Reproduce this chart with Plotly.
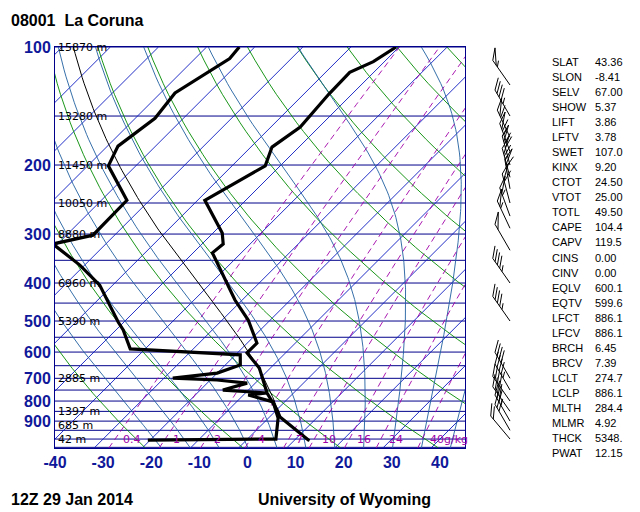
import numpy as np
import plotly.graph_objects as go

# sounding 08001 La Coruna, 12Z 29 Jan 2014
temp_p = [1010, 879, 843, 763, 659, 603, 569, 527, 497, 442, 335, 318, 298, 246, 201, 180, 160, 132, 116, 109, 100]
temp_t = [13.2, 2.2, 0.1, -5.5, -12.3, -18.0, -18.0, -21.7, -24.6, -31.5, -46.0, -45.6, -48.1, -58.5, -53.1, -55.6, -53.9, -54.8, -55.0, -52.3, -50.6]
dwpt_p = [1006, 1000, 884, 804, 772, 763, 750, 720, 707, 699, 679, 647, 610, 589, 527, 503, 405, 360, 318, 302, 246, 201, 179, 152, 131, 107, 100]
dwpt_t = [-20.5, 5.9, 2.0, -2.4, -9.0, -5.5, -15.3, -11.7, -18.6, -28.2, -20.0, -16.9, -19.0, -43.1, -48.5, -51.2, -62.7, -71.0, -81.0, -74.5, -74.7, -85.7, -87.8, -85.9, -87.0, -82.8, -83.2]

wind_p = [100, 125, 150, 170, 185, 200, 215, 230, 250, 270, 290, 330, 400, 500, 700, 750, 800, 850, 900, 950, 1000]
wind_dir = [320, 325, 330, 335, 340, 345, 345, 350, 345, 340, 335, 330, 325, 325, 330, 330, 325, 325, 330, 330, 320]
wind_spd = [45, 55, 45, 60, 65, 70, 65, 60, 60, 55, 55, 50, 45, 45, 40, 45, 40, 40, 35, 30, 20]

height_p = [100, 150, 200, 250, 300, 400, 500, 700, 850, 925, 1000]
height_lbl = ["15870 m", "13280 m", "11450 m", "10050 m", "8880 m", "6960 m", "5390 m", "2885 m", "1397 m", "685 m", "42 m"]

mix_ratios = [0.4, 1, 2, 4, 7, 10, 16, 24, 40]
mix_lbls = ["0.4", "1", "2", "4", "7", "10", "16", "24", "40g/kg"]

idx_names = ["SLAT", "SLON", "SELV", "SHOW", "LIFT", "LFTV", "SWET", "KINX", "CTOT", "VTOT", "TOTL", "CAPE", "CAPV",
             "CINS", "CINV", "EQLV", "EQTV", "LFCT", "LFCV", "BRCH", "BRCV", "LCLT", "LCLP", "MLTH", "MLMR", "THCK", "PWAT"]
idx_vals = ["43.36", "-8.41", "67.00", "5.37", "3.86", "3.78", "107.0", "9.20", "24.50", "25.00", "49.50", "104.4", "119.5",
            "0.00", "0.00", "600.1", "599.6", "886.1", "886.1", "6.45", "7.39", "274.7", "886.1", "284.4", "4.92", "5348.", "12.15"]
lcl_p = 886.1

SKEW = 81.5
P_BOT = 1054


def skx(t, p):
    return np.asarray(t, float) + SKEW * np.log10(1000.0 / np.asarray(p, float))


def moist_lapse(tk, p):
    es = 6.112 * np.exp(17.67 * (tk - 273.15) / (tk - 29.65))
    rs = 0.622 * es / (p - es)
    num = 287.04 * tk + 2.501e6 * rs
    den = 1005.7 + (2.501e6 ** 2 * rs * 0.622) / (287.04 * tk ** 2)
    return num / den / p


def moist_path(p0, t0, p1, n=200):
    ps = np.linspace(p0, p1, n)
    t = t0 + 273.15
    out = [t]
    for i in range(1, n):
        dp = ps[i] - ps[i - 1]
        k1 = moist_lapse(t, ps[i - 1])
        k2 = moist_lapse(t + k1 * dp, ps[i])
        t = t + 0.5 * (k1 + k2) * dp
        out.append(t)
    return ps, np.array(out) - 273.15


def mix_td(w, p):
    e = (w / 1000.0) * p / (0.622 + w / 1000.0)
    a = np.log(e / 6.112)
    return 243.5 * a / (17.67 - a)


fig = go.Figure()
pp = np.linspace(P_BOT, 100, 120)

# isobars
xs, ys = [], []
for p in range(100, 1051, 50):
    xs += [-40, 46, None]
    ys += [p, p, None]
fig.add_trace(go.Scatter(x=xs, y=ys, mode="lines", line=dict(color="#00008b", width=1), hoverinfo="skip"))

# isotherms
xs, ys = [], []
for t in range(-130, 50, 10):
    xs += list(skx(np.full(pp.size, t), pp)) + [None]
    ys += list(pp) + [None]
fig.add_trace(go.Scatter(x=xs, y=ys, mode="lines", line=dict(color="#0a18c0", width=0.9), hoverinfo="skip"))

# dry adiabats
xs, ys = [], []
for th in range(190, 470, 20):
    t = th * (pp / 1000.0) ** 0.2857 - 273.15
    xs += list(skx(t, pp)) + [None]
    ys += list(pp) + [None]
fig.add_trace(go.Scatter(x=xs, y=ys, mode="lines", line=dict(color="#008a00", width=0.9), hoverinfo="skip"))

# moist adiabats
xs, ys = [], []
for t0 in range(-16, 46, 6):
    ps, ts = moist_path(P_BOT, t0, 100)
    xs += list(skx(ts, ps)) + [None]
    ys += list(ps) + [None]
fig.add_trace(go.Scatter(x=xs, y=ys, mode="lines", line=dict(color="#1f5f9f", width=0.9), hoverinfo="skip"))

# mixing ratio lines
xs, ys = [], []
for w in mix_ratios:
    xs += list(skx(mix_td(w, pp), pp)) + [None]
    ys += list(pp) + [None]
fig.add_trace(go.Scatter(x=xs, y=ys, mode="lines", line=dict(color="#a000a8", width=0.9, dash="6px,4px"),
                         hoverinfo="skip"))

# parcel path
pd_ = np.linspace(temp_p[0], lcl_p, 20)
td_ = (temp_t[0] + 273.15) * (pd_ / temp_p[0]) ** 0.2857 - 273.15
pm, tm = moist_path(lcl_p, td_[-1], 100)
fig.add_trace(go.Scatter(x=np.r_[skx(td_, pd_), skx(tm, pm)], y=np.r_[pd_, pm], mode="lines",
                         line=dict(color="black", width=1), hoverinfo="skip"))

# sounding
fig.add_trace(go.Scatter(x=skx(dwpt_t, dwpt_p), y=dwpt_p, mode="lines", line=dict(color="black", width=3.2)))
fig.add_trace(go.Scatter(x=skx(temp_t, temp_p), y=temp_p, mode="lines", line=dict(color="black", width=3.2)))

# wind barbs on a pixel-scaled side axis
bx, by = [], []
for p, d, s in zip(wind_p, wind_dir, wind_spd):
    yb = 392 * np.log10(p / 100.0)
    r = np.radians(d)
    u = np.array([np.sin(r), np.cos(r)])
    perp = np.array([np.cos(r), -np.sin(r)])
    base = np.array([30.0, 0.0])
    tip = base + 30 * u

    def add(pts):
        for q in pts:
            bx.append(q[0])
            by.append(yb - q[1])
        bx.append(None)
        by.append(None)

    add([base, tip])
    pos = tip.copy()
    n50, rem = divmod(int(round(s / 5.0)) * 5, 50)
    n10, n5 = divmod(rem, 10)
    for _ in range(n50):
        add([pos, pos + 9 * perp + 9 * u, pos - 6 * u])
        pos = pos - 8 * u
    for _ in range(n10):
        add([pos, pos + 9 * perp + 9 * u])
        pos = pos - 4 * u
    if n5:
        add([pos, pos + 4.5 * perp + 4.5 * u])
fig.add_trace(go.Scatter(x=bx, y=by, xaxis="x2", yaxis="y2", mode="lines",
                         line=dict(color="black", width=1), hoverinfo="skip"))

ann = []
for p, lbl in zip(height_p, height_lbl):
    ann.append(dict(x=0, xref="paper", y=np.log10(p), yref="y", text=lbl, showarrow=False, xanchor="left",
                    yanchor="middle", xshift=1, font=dict(size=11, color="black", family="DejaVu Sans")))
for w, lbl in zip(mix_ratios, mix_lbls):
    ann.append(dict(x=float(skx(mix_td(w, 1000), 1000)) + 1.2, y=np.log10(1000), text=lbl, showarrow=False,
                    xanchor="left", yanchor="middle", font=dict(size=11, color="#a000a8", family="DejaVu Sans")))


# the page adds an 8px body margin, so screen px -> paper coords
def px_x(px):
    return (px - 55) / 485.0


def px_y(py):
    return (448 - py) / 401.0


for i, (n, v) in enumerate(zip(idx_names, idx_vals)):
    py = 62 + i * 15.04
    ann.append(dict(x=px_x(550), y=px_y(py), xref="paper", yref="paper", text=n, showarrow=False, xanchor="left",
                    yanchor="middle", font=dict(size=11, color="black", family="Liberation Sans")))
    ann.append(dict(x=px_x(593), y=px_y(py), xref="paper", yref="paper", text=v, showarrow=False, xanchor="left",
                    yanchor="middle", font=dict(size=11, color="black", family="Liberation Sans")))

bold = dict(size=16, color="black", family="Liberation Sans")
ann.append(dict(x=px_x(9), y=px_y(20), xref="paper", yref="paper", text="<b>08001  La Coruna</b>", showarrow=False,
                xanchor="left", yanchor="middle", font=bold))
ann.append(dict(x=px_x(9), y=px_y(500), xref="paper", yref="paper", text="<b>12Z 29 Jan 2014</b>", showarrow=False,
                xanchor="left", yanchor="middle", font=bold))
ann.append(dict(x=px_x(256), y=px_y(500), xref="paper", yref="paper", text="<b>University of Wyoming</b>",
                showarrow=False, xanchor="left", yanchor="middle", font=bold))

tickfont = dict(size=16, color="#10189a", family="Liberation Sans")
fig.update_layout(
    width=632, height=504, showlegend=False,
    margin=dict(l=47, r=100, t=39, b=64, autoexpand=False),
    paper_bgcolor="white", plot_bgcolor="white",
    xaxis=dict(domain=[0, 410 / 485.0], range=[-40, 45.2], tickvals=list(range(-40, 41, 10)),
               ticktext=["<b>%d</b>" % v for v in range(-40, 41, 10)], tickfont=tickfont, automargin=False,
               showgrid=False, zeroline=False, showline=True, linecolor="#00008b", mirror=True, ticks=""),
    yaxis=dict(type="log", range=[np.log10(P_BOT), 2], tickvals=list(range(100, 1000, 100)),
               ticktext=["<b>%d</b>" % v for v in range(100, 1000, 100)], tickfont=tickfont, automargin=False,
               showgrid=False, zeroline=False, showline=True, linecolor="#00008b", mirror=True, ticks=""),
    xaxis2=dict(domain=[px_x(480), px_x(530)], range=[0, 50], visible=False, anchor="y2", automargin=False),
    yaxis2=dict(domain=[0, 1], range=[401, 0], visible=False, anchor="x2", automargin=False),
    annotations=ann,
)

fig.write_html("out.html")
